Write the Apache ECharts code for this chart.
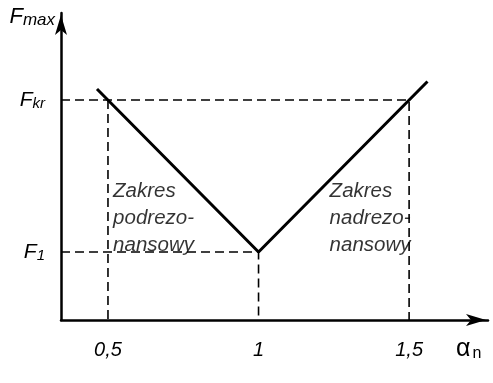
<!DOCTYPE html>
<html>
<head>
<meta charset="utf-8">
<script src="https://cdn.jsdelivr.net/npm/echarts@6/dist/echarts.min.js"></script>
<style>
  html, body { margin: 0; padding: 0; background: #fff; }
  #chart { width: 493px; height: 383px; }
</style>
</head>
<body>
<div id="chart"></div>
<script>
// Characteristic levels of the force (relative units)
const F1 = 0.68;
const Fkr = 2.2;

// Frequency ratio marks on the horizontal axis
const xTicks = [0.5, 1, 1.5];
const xTickLabels = ['0,5', '1', '1,5'];

// Force levels marked on the vertical axis
const yTicks = [F1, Fkr];
const yTickLabels = ['{f|F}{s|1}', '{f|F}{s|kr}'];

// V-shaped characteristic F_max(α_n)
const curveX = [0.4635, 1, 1.561];
const curveY = [2.31, F1, 2.385];

// Dashed guide lines (each a polyline)
const guides = [
  [[0.344, Fkr], [1.5, Fkr], [1.5, 0]],
  [[0.5, Fkr], [0.5, 0]],
  [[0.344, F1], [1, F1], [1, 0]]
];

// Region captions
const regionText = [
  { x: 0.517, y: 1.02, text: 'Zakres\npodrezo-\nnansowy' },
  { x: 1.236, y: 1.02, text: 'Zakres\nnadrezo-\nnansowy' }
];

const fontFamily = '"Liberation Sans", Arial, sans-serif';
const chart = echarts.init(document.getElementById('chart'));

const series = [];
series.push({
  type: 'line',
  data: curveX.map((x, i) => [x, curveY[i]]),
  symbol: 'none',
  lineStyle: { color: '#000', width: 3 },
  z: 5,
  silent: true
});
guides.forEach(g => series.push({
  type: 'line',
  data: g,
  symbol: 'none',
  lineStyle: { color: '#000', width: 1.6, type: [9, 5] },
  z: 3,
  silent: true
}));
series.push({
  type: 'scatter',
  data: regionText.map(r => ({ value: [r.x, r.y], label: { formatter: r.text } })),
  symbolSize: 0,
  label: {
    show: true,
    position: 'right',
    distance: 0,
    align: 'left',
    verticalAlign: 'middle',
    color: '#000',
    fontStyle: 'italic',
    fontSize: 20.5,
    lineHeight: 27,
    fontFamily: fontFamily
  },
  silent: true
});

chart.setOption({
  animation: false,
  backgroundColor: '#fff',
  grid: { left: 61, right: 5, top: 13, bottom: 63, containLabel: false },
  xAxis: {
    type: 'value',
    min: 0.344,
    max: 1.762,
    splitLine: { show: false },
    axisTick: { show: false },
    axisLine: {
      onZero: false,
      lineStyle: { color: '#000', width: 2.5 },
      symbol: ['none', 'arrow'],
      symbolSize: [9, 20],
      symbolOffset: [0, -2]
    },
    axisLabel: {
      customValues: xTicks,
      formatter: v => xTickLabels[xTicks.indexOf(v)],
      color: '#000',
      fontStyle: 'italic',
      fontSize: 20,
      margin: 20,
      fontFamily: fontFamily
    },
    name: '{a|α}{n|n}',
    nameLocation: 'end',
    nameGap: -32,
    nameTextStyle: {
      padding: [58, 0, 0, 0],
      rich: {
        a: { fontSize: 25, color: '#000', fontFamily: fontFamily },
        n: { fontSize: 16, color: '#000', fontFamily: fontFamily, padding: [10, 0, 0, 2] }
      }
    }
  },
  yAxis: {
    type: 'value',
    min: 0,
    max: 3.07,
    splitLine: { show: false },
    axisTick: { show: false },
    axisLine: {
      onZero: false,
      lineStyle: { color: '#000', width: 2.5 },
      symbol: ['none', 'arrow'],
      symbolSize: [9, 20],
      symbolOffset: [0, -2]
    },
    axisLabel: {
      customValues: yTicks,
      formatter: v => yTickLabels[yTicks.indexOf(v)],
      margin: 16,
      rich: {
        f: { fontSize: 21, fontStyle: 'italic', color: '#000', fontFamily: fontFamily },
        s: { fontSize: 15, fontStyle: 'italic', color: '#000', fontFamily: fontFamily, padding: [8, 0, 0, 0] }
      }
    },
    name: '{f|F}{s|max}',
    nameLocation: 'end',
    nameGap: -16,
    nameTextStyle: {
      align: 'right',
      padding: [0, 6, 0, 0],
      rich: {
        f: { fontSize: 22, fontStyle: 'italic', color: '#000', fontFamily: fontFamily },
        s: { fontSize: 17, fontStyle: 'italic', color: '#000', fontFamily: fontFamily, padding: [8, 0, 0, 0] }
      }
    }
  },
  series: series
});
</script>
</body>
</html>
